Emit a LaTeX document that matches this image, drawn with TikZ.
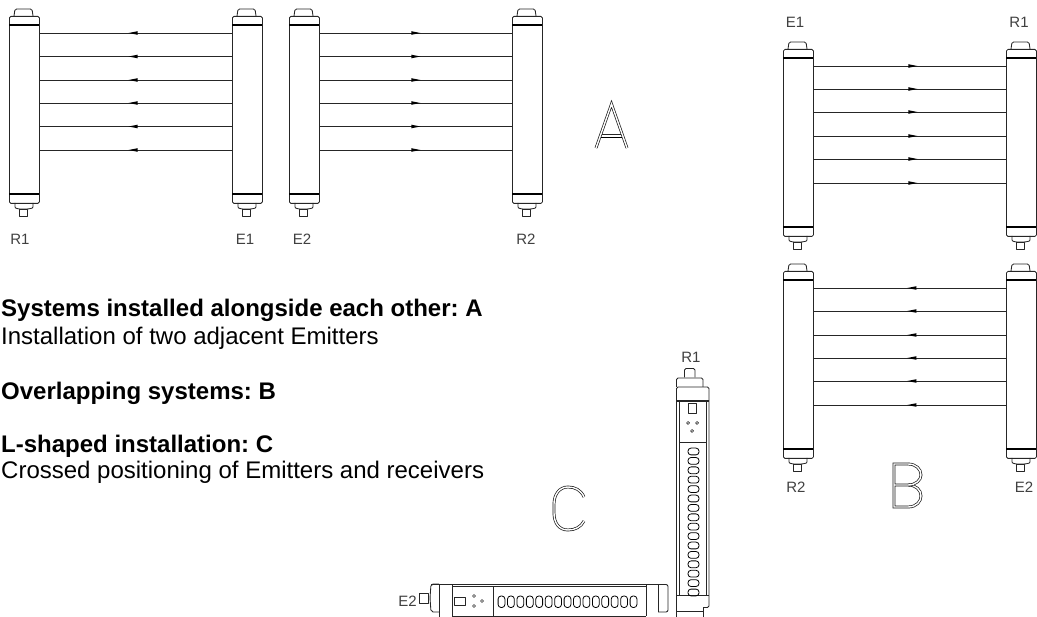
\documentclass[tikz,border=0pt]{standalone}
\usepackage{fontspec}
\setmainfont{Liberation Sans}
\newfontfamily\cadfont{Liberation Sans}
\usetikzlibrary{decorations.markings}
\tikzset{
  part/.style={line width=.85pt,draw=black!85,line join=round},
  barbody/.style={part,rectangle,rounded corners=1.5pt,inner sep=0pt,minimum width=30pt,minimum height=187pt,anchor=north west},
  beam/.style={line width=.85pt,draw=black!85,postaction={decorate},decoration={markings,mark=at position #1 with {\fill[black] (4.5pt,0pt)--(-4.5pt,1.8pt)--(-4.5pt,-1.8pt)--cycle;}}},
  beam/.default=.5,
  letter/.style={draw=black!90,line width=.7pt,double=white,double distance=1.4pt,line join=miter},
  cad/.style={font=\cadfont\fontsize{15}{15}\selectfont,inner sep=0pt,text=black!75},
  say/.style={font=\fontsize{24}{26}\selectfont,inner sep=0pt,anchor=base west,text=black},
  saybold/.style={say,font=\bfseries\fontsize{24}{26}\selectfont},
  zero/.style={part,line width=.8pt,draw=black,rounded corners=3pt},
  tiny/.style={part,line width=.7pt}
}
\newcommand\lightbar[3]{% name, left x, top y
  \node[barbody] (#1) at (#2,#3+7) {};
  \draw[part,rounded corners=1.5pt] (#2+5,#3+7)--(#2+6,#3)--(#2+23,#3)--(#2+24,#3+7);
  \draw[part,draw=black,line width=1.1pt] (#2,#3+16)--(#2+30,#3+16);
  \draw[part,draw=black,line width=1.1pt] (#2,#3+185)--(#2+30,#3+185);
  \draw[part,rounded corners=1pt] (#2+6,#3+194)--(#2+6,#3+199)--(#2+10,#3+200)--(#2+19,#3+200)--(#2+24,#3+199)--(#2+24,#3+194);
  \draw[part] (#2+10.5,#3+200) rectangle (#2+18.5,#3+207.5);
}
\begin{document}
\frenchspacing
\begin{tikzpicture}[x=1pt,y=-1pt]
\useasboundingbox (0,0) rectangle (1037,617);
% group A
\lightbar{Ra}{9}{9}
\lightbar{Ea}{232}{9}
\lightbar{Eb}{289}{9}
\lightbar{Rb}{512}{9}
\foreach \y in {33,56.5,80,103,126.5,150}{
  \draw[beam=.515] (Ea.west |- 0,\y) -- (Ra.east |- 0,\y);
  \draw[beam] (Eb.east |- 0,\y) -- (Rb.west |- 0,\y);
}
\node[cad] (la1) at (20,239) {R1};
\node[cad] (la2) at (245,239) {E1};
\node[cad] (la3) at (302,239) {E2};
\node[cad] (la4) at (526,239) {R2};
\draw[letter] (596,148)--(611.5,104)--(627,148);
\draw[part,draw=black] (601,137)--(622,137);
\draw[part,line width=.6pt] (602,134.5)--(621,134.5);
% group B
\lightbar{Ec}{783}{42}
\lightbar{Rc}{1006}{42}
\lightbar{Rd}{783}{264}
\lightbar{Ed}{1006}{264}
\foreach \y in {66,89,112,136,159,183}{
  \draw[beam=.515] (Ec.east |- 0,\y) -- (Rc.west |- 0,\y);
}
\foreach \y in {288,311,335,358,381,405}{
  \draw[beam=.49] (Ed.west |- 0,\y) -- (Rd.east |- 0,\y);
}
\node[cad] (lb1) at (795,22) {E1};
\node[cad] (lb2) at (1019,22) {R1};
\node[cad] (lb3) at (796,487) {R2};
\node[cad] (lb4) at (1024,487) {E2};
\draw[letter] (908,464)--(894,464)--(894,507)--(908,507)
  .. controls (917,507) and (921,501) .. (921,496)
  .. controls (921,490) and (916,485) .. (908,485) -- (894,485);
\draw[letter] (908,464) .. controls (916,464) and (921,469) .. (921,475)
  .. controls (921,480) and (916,485) .. (908,485);
% text
\node[saybold] (t1) at (1,317) {Systems installed alongside each other: A};
\node[say] (t2) at (1,345) {Installation of two adjacent Emitters};
\node[saybold] (t3) at (1,400) {Overlapping systems: B};
\node[saybold] (t4) at (1,453) {L-shaped installation: C};
\node[say] (t5) at (1,479) {Crossed positioning of Emitters and receivers};
% group C letter
\draw[letter] (584,497) .. controls (581,490) and (575,487) .. (568,487)
  .. controls (559,487) and (554,495) .. (554,504) -- (554,513)
  .. controls (554,523) and (559,530) .. (568,530)
  .. controls (575,530) and (581,527) .. (584,521);
% vertical unit
\node[cad] (lc1) at (691,357) {R1};
\draw[part] (684.5,377.5)--(684.5,370)--(686,368.5)--(693.5,368.5)--(695,370)--(695,377.5);
\draw[part,rounded corners=1.5pt] (676.5,387)--(676.5,378)--(703,378)--(703,387);
\draw[part,rounded corners=1.5pt] (676.5,401)--(676.5,387)--(709,387)--(709,401);
\draw[part,line width=1.2pt] (676,401)--(709,401);
\draw[part] (676.5,401)--(676.5,617);
\draw[part] (679.5,401)--(679.5,595);
\draw[part] (706,401)--(706,595);
\draw[part,rounded corners=1.5pt] (709,401)--(709,607.5)--(703,607.5);
\draw[part] (703,607.5)--(703,617);
\draw[part] (676.5,595)--(709,595);
\draw[part] (676.5,611)--(703,611);
\draw[part] (688,403)rectangle(696,413);
\foreach \p in {(688,423),(697,423),(692,431)} \draw[tiny] \p circle (1.5);
\draw[part] (679.5,442)--(706,442);
\foreach \i in {0,...,15} \draw[zero] (688,448.1+\i*9.4) rectangle (699,454.9+\i*9.4);
% horizontal unit
\node[cad,anchor=east] (lc2) at (417,601) {E2};
\draw[part] (419,593) rectangle (428.5,603);
\draw[part,rounded corners=2pt] (439,584)--(431,584)--(430,598)--(431,612)--(439,612);
\draw[part] (439,584)--(439,617);
\draw[part] (431,584)--(666,584);
\draw[part] (452,586)--(646,586);
\draw[part] (452,584)--(452,616);
\draw[part] (452,616)--(646,616);
\draw[part] (646,584)--(646,616);
\draw[part] (493,586)--(493,616);
\draw[part] (454.5,597) rectangle (465,605);
\foreach \p in {(474,596),(474,606),(482,601)} \draw[tiny] \p circle (1.5);
\foreach \i in {0,...,14} \draw[zero] (498.1+\i*9.43,596) rectangle (504.9+\i*9.43,607.5);
\draw[part] (658,584)--(658,612);
\draw[part,rounded corners=2pt] (658,584.5)--(668,584.5)--(668,612)--(658,612);
\end{tikzpicture}
\end{document}
